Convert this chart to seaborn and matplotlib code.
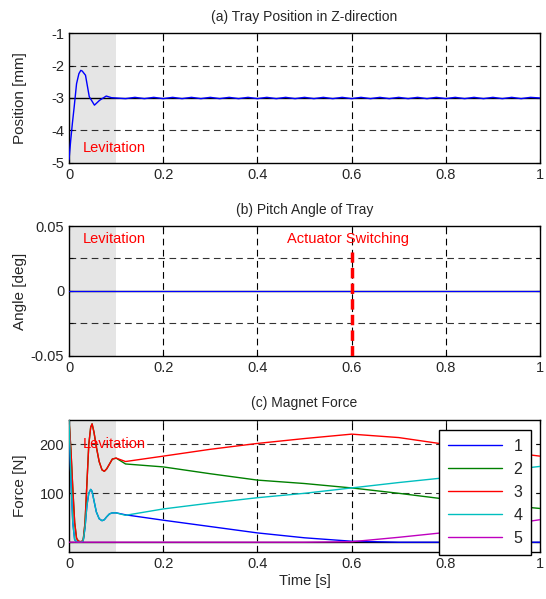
"""Tray levitation: position, pitch angle and magnet forces."""

import matplotlib
matplotlib.use("Agg")
import matplotlib.pyplot as plt
import numpy as np
import pandas as pd
import seaborn as sns

# (a) tray position [mm]
pos_t = [0, 0.0036, 0.007, 0.011, 0.016, 0.021, 0.025, 0.028, 0.035, 0.043,
         0.054, 0.065, 0.079, 0.09, 0.1, 0.12, 0.14, 0.16, 0.18, 0.2, 0.22,
         0.24, 0.26, 0.28, 0.3, 0.32, 0.34, 0.36, 0.38, 0.4, 0.42, 0.44, 0.46,
         0.48, 0.5, 0.52, 0.54, 0.56, 0.58, 0.6, 0.62, 0.64, 0.66, 0.68, 0.7,
         0.72, 0.74, 0.76, 0.78, 0.8, 0.82, 0.84, 0.86, 0.88, 0.9, 0.92, 0.94,
         0.96, 0.98, 1.0]
pos_z = [-4.9, -4.3, -3.8, -3.27, -2.56, -2.25, -2.15, -2.17, -2.3, -2.96,
         -3.22, -3.07, -2.94, -2.99, -3.0, -3.02, -2.98, -3.02, -2.98, -3.02,
         -2.98, -3.02, -2.98, -3.02, -2.98, -3.02, -2.98, -3.02, -2.98, -3.02,
         -2.98, -3.02, -2.98, -3.02, -2.98, -3.02, -2.98, -3.02, -2.98, -3.02,
         -2.98, -3.02, -2.98, -3.02, -2.98, -3.02, -2.98, -3.02, -2.98, -3.02,
         -2.98, -3.02, -2.98, -3.02, -2.98, -3.02, -2.98, -3.02, -2.98, -3.0]

# (b) pitch angle [deg]
ang_t = [0, 1.0]
ang_v = [0, 0]

# (c) magnet forces [N]
force_t = [0, 0.004, 0.008, 0.012, 0.016, 0.02, 0.025, 0.03, 0.034, 0.038,
           0.042, 0.046, 0.049, 0.053, 0.058, 0.064, 0.07, 0.075, 0.08, 0.086,
           0.092, 0.1, 0.12, 0.2, 0.3, 0.4, 0.5, 0.6, 0.7, 0.8, 0.9, 1.0]
lev_upper = [250, 190, 110, 40, 8, 2, 1, 3, 40, 120, 200, 235, 242, 225, 195,
             165, 148, 145, 150, 160, 170, 172]
lev_lower = [250, 130, 40, 5, 1, 0, 0, 2, 30, 75, 100, 108, 104, 85, 62, 48,
             44, 46, 52, 58, 60, 60]
f1 = lev_lower + [56, 45, 32, 19, 9, 2, 0, 0, 0, 0]
f2 = lev_upper + [160, 154, 140, 127, 120, 111, 100, 88, 78, 69]
f3 = lev_upper + [165, 176, 190, 202, 212, 221, 214, 200, 188, 176]
f4 = lev_lower + [55, 68, 80, 91, 100, 111, 122, 132, 144, 155]
f5 = [0] * 22 + [0, 0, 0, 0, 0, 1, 10, 20, 32, 46]
magnets = ["1", "2", "3", "4", "5"]
magnet_colors = ["#0000ff", "#008000", "#ff0000", "#00bfbf", "#bf00bf"]

sns.set_style("ticks")
plt.rcParams["font.family"] = ["Liberation Sans", "DejaVu Sans"]
plt.rcParams["axes.unicode_minus"] = False

fig = plt.figure(figsize=(5.46, 5.99), dpi=100)
ax_a = fig.add_axes([0.1264, 0.7279, 0.8626, 0.217])
ax_b = fig.add_axes([0.1264, 0.4057, 0.8626, 0.217])
ax_c = fig.add_axes([0.1264, 0.0785, 0.8626, 0.2204])


def style_axes(ax, yticks, ylim, ylabel, title, grid_y=None):
    ax.set_xlim(0, 1)
    ax.set_ylim(*ylim)
    ax.axvspan(0, 0.1, color="#e5e5e5", zorder=0, lw=0)
    ax.set_xticks([0, 0.2, 0.4, 0.6, 0.8, 1.0])
    ax.set_xticklabels(["0", "0.2", "0.4", "0.6", "0.8", "1"])
    ax.set_yticks(yticks)
    for x in [0.2, 0.4, 0.6, 0.8]:
        ax.axvline(x, color="black", ls=(0, (6, 4)), lw=0.8, zorder=1)
    for y in (grid_y if grid_y is not None else yticks):
        ax.axhline(y, color="black", ls=(0, (6, 4)), lw=0.8, zorder=1, alpha=0.8)
    ax.tick_params(direction="in", top=True, right=True, labelsize=10.5,
                   length=3, width=0.8)
    for s in ax.spines.values():
        s.set_linewidth(1.0)
        s.set_color("black")
    ax.set_ylabel(ylabel, fontsize=11)
    ax.set_xlabel("")
    ax.set_title(title, fontsize=10, pad=9)


# (a)
style_axes(ax_a, [-5, -4, -3, -2, -1], (-5, -1), "Position [mm]",
           "(a) Tray Position in Z-direction", grid_y=[-4, -2])
ax_a.axhline(-3, color="black", lw=1.0, zorder=1)
sns.lineplot(x=pos_t, y=pos_z, ax=ax_a, color="#0000ff", lw=1.0, zorder=3)
ax_a.text(0.03, -4.55, "Levitation", color="red", fontsize=10.5, va="center")

# (b)
style_axes(ax_b, [-0.05, -0.025, 0, 0.025, 0.05], (-0.05, 0.05), "Angle [deg]",
           "(b) Pitch Angle of Tray", grid_y=[-0.025, 0.025])
ax_b.set_yticklabels(["-0.05", "", "0", "", "0.05"])
ax_b.axhline(0, color="black", lw=1.0, zorder=1)
sns.lineplot(x=ang_t, y=ang_v, ax=ax_b, color="#0000ff", lw=0.8, zorder=3)
ax_b.plot([0.6, 0.6], [-0.05, 0.03], color="red", lw=2.5, ls=(0, (3, 1.5)),
          zorder=4)
ax_b.text(0.03, 0.04, "Levitation", color="red", fontsize=10.5, va="center")
ax_b.text(0.462, 0.04, "Actuator Switching", color="red", fontsize=10.5,
          va="center")

# (c)
style_axes(ax_c, [0, 100, 200], (-20, 250), "Force [N]", "(c) Magnet Force",
           grid_y=[100, 200])
ax_c.axhline(0, color="black", lw=1.0, zorder=1)
df = pd.concat(
    [pd.DataFrame({"t": force_t, "f": vals, "magnet": m})
     for m, vals in zip(magnets, [f1, f2, f3, f4, f5])],
    ignore_index=True,
)
sns.lineplot(data=df, x="t", y="f", hue="magnet", palette=magnet_colors,
             ax=ax_c, lw=1.0, zorder=3, sort=False)
ax_c.text(0.03, 200, "Levitation", color="red", fontsize=10.5, va="center",
          zorder=5)
ax_c.set_xlabel("Time [s]", fontsize=10.5, labelpad=2)
leg = ax_c.legend(title=None, loc="upper right", bbox_to_anchor=(0.981, 0.924),
                  borderaxespad=0, fontsize=11.5, handlelength=3.4,
                  labelspacing=0.5, handletextpad=0.7, borderpad=0.55,
                  fancybox=False, framealpha=1, edgecolor="black")
leg.get_frame().set_linewidth(1.0)
leg.set_zorder(10)

for ax in (ax_a, ax_b, ax_c):
    ax.yaxis.set_label_coords(-0.09, 0.5)

fig.savefig("out.png", dpi=100)
